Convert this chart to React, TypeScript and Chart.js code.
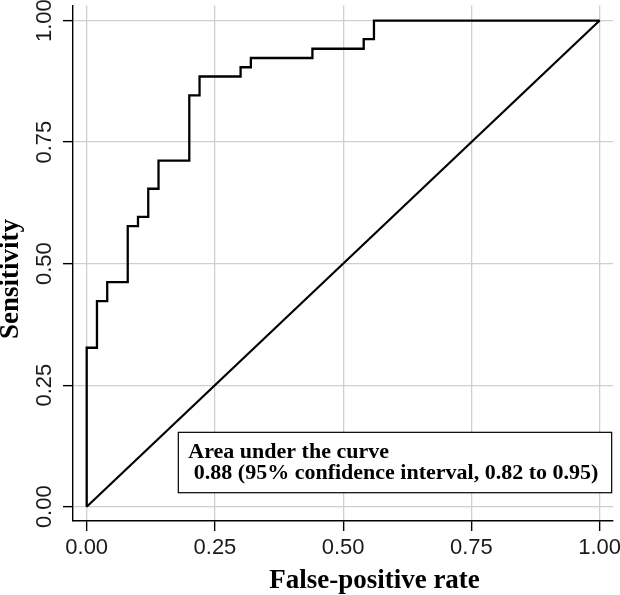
import React, { useEffect, useRef } from "react";
import { Chart, registerables } from "chart.js";

Chart.register(...registerables);

// ROC curve corner points (stepped)
const fpr = [0, 0, 0.02, 0.04, 0.08, 0.1, 0.12, 0.14, 0.2, 0.22, 0.3, 0.32, 0.44, 0.54, 0.56, 1.0];
const tpr = [0, 0.327, 0.423, 0.462, 0.577, 0.596, 0.654, 0.712, 0.846, 0.885, 0.904, 0.923, 0.942, 0.962, 1.0, 1.0];
// Reference (chance) line
const diagX = [0, 1];
const diagY = [0, 1];
const tickValues = [0, 0.25, 0.5, 0.75, 1];
const xTitle = "False-positive rate";
const yTitle = "Sensitivity";
const aucLines = ["Area under the curve", " 0.88 (95% confidence interval, 0.82 to 0.95)"];

const serifBold = (size: number) => `bold ${size}px "Liberation Serif", "Times New Roman", serif`;

const overlayPlugin = {
  id: "overlay",
  afterDatasetsDraw(chart: any) {
    const { ctx, scales } = chart;
    const xs = scales.x;
    const ys = scales.y;
    // annotation box
    const left = xs.getPixelForValue(0.1786);
    const right = xs.getPixelForValue(1.0234);
    const top = ys.getPixelForValue(0.153);
    const bottom = ys.getPixelForValue(0.0288);
    ctx.save();
    ctx.fillStyle = "#fff";
    ctx.fillRect(left, top, right - left, bottom - top);
    ctx.strokeStyle = "#000";
    ctx.lineWidth = 1.2;
    ctx.strokeRect(left, top, right - left, bottom - top);
    ctx.fillStyle = "#000";
    ctx.font = serifBold(22);
    ctx.textAlign = "left";
    ctx.textBaseline = "alphabetic";
    ctx.fillText(aucLines[0], left + 10, top + 26);
    ctx.fillText(aucLines[1], left + 10, top + 47);
    ctx.restore();
  },
  afterDraw(chart: any) {
    const { ctx, chartArea } = chart;
    ctx.save();
    ctx.fillStyle = "#000";
    ctx.font = serifBold(27);
    ctx.textAlign = "center";
    ctx.textBaseline = "alphabetic";
    ctx.fillText(xTitle, chartArea.left + 301.5, 588);
    ctx.translate(18, chartArea.top + 273.5);
    ctx.rotate(-Math.PI / 2);
    ctx.fillText(yTitle, 0, 0);
    ctx.restore();
  },
};

export default function App() {
  const ref = useRef<HTMLCanvasElement | null>(null);
  useEffect(() => {
    if (!ref.current) return;
    const rocData = fpr.map((x, i) => ({ x, y: tpr[i] }));
    const diagData = diagX.map((x, i) => ({ x, y: diagY[i] }));
    const tickFont = { family: '"Liberation Sans", Arial, sans-serif', size: 22 };
    const chart = new Chart(ref.current, {
      type: "scatter",
      data: {
        datasets: [
          {
            data: rocData,
            showLine: true,
            stepped: "before",
            borderColor: "#000",
            borderWidth: 2.3,
            pointRadius: 0,
            fill: false,
          } as any,
          {
            data: diagData,
            showLine: true,
            borderColor: "#000",
            borderWidth: 2.2,
            pointRadius: 0,
            fill: false,
          },
        ],
      },
      options: {
        responsive: false,
        animation: false,
        devicePixelRatio: 1,
        layout: { padding: { top: 5.5, right: 7, left: 0, bottom: 0 } },
        plugins: { legend: { display: false }, tooltip: { enabled: false } },
        scales: {
          x: {
            type: "linear",
            min: -0.0267,
            max: 1.026,
            afterBuildTicks: (s: any) => {
              s.ticks = tickValues.map((v) => ({ value: v }));
            },
            afterFit: (s: any) => {
              s.height = 74;
              s.paddingLeft = 0;
              s.paddingRight = 0;
            },
            grid: { color: "#cfcfcf", lineWidth: 1.3, tickLength: 10, tickColor: "#000", tickWidth: 1.4 },
            border: { color: "#000", width: 1.4 },
            ticks: {
              font: tickFont,
              color: "#1a1a1a",
              padding: 4,
              maxRotation: 0,
              autoSkip: false,
              callback: (v: any) => Number(v).toFixed(2),
            },
          },
          y: {
            type: "linear",
            min: -0.0294,
            max: 1.031,
            afterBuildTicks: (s: any) => {
              s.ticks = tickValues.map((v) => ({ value: v }));
            },
            afterFit: (s: any) => {
              s.width = 73;
              s.paddingTop = 0;
              s.paddingBottom = 0;
            },
            grid: { color: "#cfcfcf", lineWidth: 1.3, tickLength: 10, tickColor: "#000", tickWidth: 1.4 },
            border: { color: "#000", width: 1.4 },
            ticks: {
              font: tickFont,
              color: "#1a1a1a",
              padding: -3,
              minRotation: 90,
              maxRotation: 90,
              crossAlign: "center",
              autoSkip: false,
              callback: (v: any) => Number(v).toFixed(2),
            },
          },
        },
      },
      plugins: [overlayPlugin],
    } as any);
    return () => chart.destroy();
  }, []);
  return (
    <div style={{ position: "absolute", left: 0, top: 0, width: 620, height: 595, background: "#fff" }}>
      <canvas ref={ref} width={620} height={595} />
    </div>
  );
}
